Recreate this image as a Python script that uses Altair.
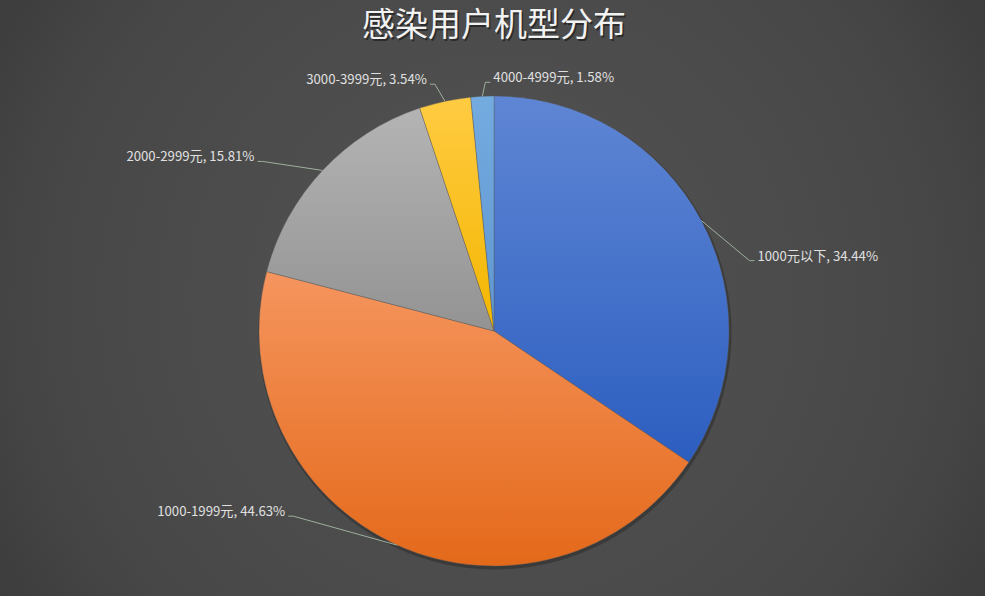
import math
import altair as alt
import pandas as pd

# ---------------- data ----------------
TITLE = "感染用户机型分布"
CATEGORIES = ["1000元以下", "1000-1999元", "2000-2999元", "3000-3999元", "4000-4999元"]
SHARES = [34.44, 44.63, 15.81, 3.54, 1.58]

# ---------------- styles / layout ----------------
W, H = 985, 596
CX, CY, R = 494, 331, 235
TOP_COLORS = ["#5f86d4", "#f5955e", "#b4b4b4", "#ffcb42", "#74abdf"]
BOTTOM_COLORS = ["#2c5ec0", "#e4691a", "#939393", "#f3b600", "#5e96d2"]
# leader-line elbow offsets from the slice edge point (label placement, like Excel's)
LABEL_DX = [48, -104, -60, -10, 3]
LABEL_DY = [40, -29, -9, -17, -14]
LABEL_SIDE = [1, -1, -1, -1, 1]
LABEL_COLOR = "#e0e0e0"
LINE_COLOR = "#9cb09c"
FONT = "Noto Sans CJK SC"

df = pd.DataFrame({
    "i": list(range(len(CATEGORIES))),
    "cat": CATEGORIES,
    "pct": SHARES,
    "ldx": LABEL_DX,
    "ldy": LABEL_DY,
    "side": LABEL_SIDE,
})

base = alt.Chart(df).transform_window(
    cum="sum(pct)", sort=[alt.SortField("i")], frame=[None, 0]
).transform_calculate(
    start="datum.cum - datum.pct",
    mid="(datum.cum - datum.pct/2) / 100 * 2 * PI",
).transform_calculate(
    ex=f"{CX} + {R} * sin(datum.mid)",
    ey=f"{CY} - {R} * cos(datum.mid)",
).transform_calculate(
    bx="datum.ex + datum.ldx",
    by="datum.ey + datum.ldy",
).transform_calculate(
    tx="datum.bx + datum.side * 5",
    ty="datum.by",
    label="datum.cat + ', ' + format(datum.pct, '.2f') + '%'",
).transform_calculate(
    lx="datum.tx + datum.side * 3",
    ly="datum.ty - 4",
)

# background with radial gradient
bg = alt.Chart(pd.DataFrame({"a": [0]})).mark_rect(
    fill={
        "gradient": "radial",
        "x1": 0.5, "y1": 0.5, "r1": 0,
        "x2": 0.5, "y2": 0.5, "r2": 0.75,
        "stops": [
            {"offset": 0, "color": "#545454"},
            {"offset": 0.6, "color": "#474747"},
            {"offset": 1, "color": "#303030"},
        ],
    }
).encode(x=alt.value(0), x2=alt.value(W), y=alt.value(0), y2=alt.value(H))

theta_scale = alt.Scale(domain=[0, 100], range=[0, 2 * math.pi])

# soft shadow behind the pie
shadow = base.mark_arc(fill="#2e2e2e", opacity=0.6, outerRadius=R + 1.5).encode(
    theta=alt.Theta("start:Q", scale=theta_scale, stack=None),
    theta2="cum:Q",
    x=alt.value(CX + 1),
    y=alt.value(CY + 2),
)

slices = []
for k, c in enumerate(CATEGORIES):
    grad = {
        "gradient": "linear",
        "x1": 0, "y1": 0, "x2": 0, "y2": 1,
        "stops": [
            {"offset": 0, "color": TOP_COLORS[k]},
            {"offset": 1, "color": BOTTOM_COLORS[k]},
        ],
    }
    slices.append(
        base.transform_filter(alt.datum.i == k).mark_arc(
            fill=grad, outerRadius=R, stroke="#5a5a5a", strokeWidth=0.4
        ).encode(
            theta=alt.Theta("start:Q", scale=theta_scale, stack=None),
            theta2="cum:Q",
            x=alt.value(CX),
            y=alt.value(CY),
        )
    )

seg1 = base.mark_rule(color=LINE_COLOR, strokeWidth=1).encode(
    x=alt.X("ex:Q", scale=None, axis=None),
    y=alt.Y("ey:Q", scale=None, axis=None),
    x2="bx:Q",
    y2="by:Q",
)
seg2 = base.mark_rule(color=LINE_COLOR, strokeWidth=1).encode(
    x=alt.X("bx:Q", scale=None, axis=None),
    y=alt.Y("by:Q", scale=None, axis=None),
    x2="tx:Q",
    y2="ty:Q",
)

labels_right = base.transform_filter(alt.datum.side > 0).mark_text(
    align="left", baseline="middle", font=FONT, fontSize=13.2, color=LABEL_COLOR
).encode(
    x=alt.X("lx:Q", scale=None, axis=None),
    y=alt.Y("ly:Q", scale=None, axis=None),
    text="label:N",
)
labels_left = base.transform_filter(alt.datum.side < 0).mark_text(
    align="right", baseline="middle", font=FONT, fontSize=13.2, color=LABEL_COLOR
).encode(
    x=alt.X("lx:Q", scale=None, axis=None),
    y=alt.Y("ly:Q", scale=None, axis=None),
    text="label:N",
)

tdf = pd.DataFrame({"t": [TITLE]})
title_shadow = alt.Chart(tdf).mark_text(
    align="center", baseline="middle", font=FONT, fontSize=33, fontWeight="normal",
    color="#1e1e1e", opacity=0.7
).encode(x=alt.value(CX + 1.5), y=alt.value(27.5), text="t:N")
title = alt.Chart(tdf).mark_text(
    align="center", baseline="middle", font=FONT, fontSize=33, fontWeight="normal",
    color="#f2f2f2"
).encode(x=alt.value(CX), y=alt.value(26), text="t:N")

chart = alt.layer(
    bg, shadow, *slices, seg1, seg2, labels_right, labels_left, title_shadow, title
).properties(
    width=W, height=H, padding=0, autosize="none", background="#3d3d3d"
).configure_view(stroke=None)

chart.save("out.html", embed_options={"renderer": "svg", "actions": False})
